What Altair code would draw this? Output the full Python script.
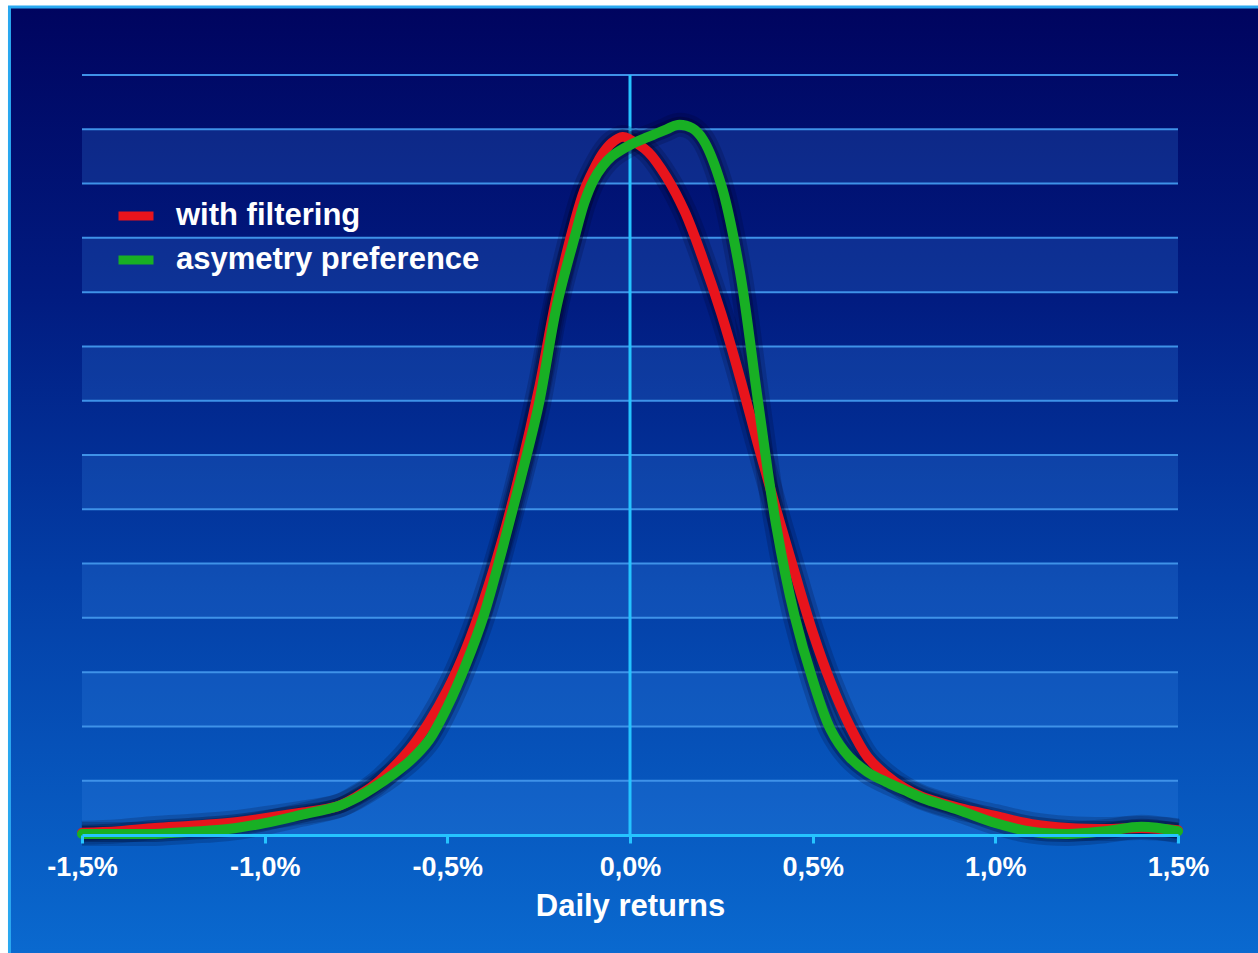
import altair as alt
import pandas as pd

# ---- data (x in %, y = density in grid units) ----
red_x = [-1.5, -1.4, -1.3, -1.2, -1.1, -1.0, -0.9, -0.8,
         -0.75, -0.7, -0.65, -0.6, -0.55, -0.5, -0.45, -0.4, -0.35, -0.3, -0.25, -0.2, -0.15,
         -0.125, -0.1, -0.075, -0.05, -0.02, 0.0,
         0.05, 0.1, 0.15, 0.2, 0.25, 0.3, 0.35, 0.4, 0.45, 0.5, 0.55, 0.6, 0.65, 0.7, 0.75, 0.8,
         0.9, 1.0, 1.1, 1.2, 1.3, 1.4, 1.5]
red_y = [0.04, 0.07, 0.13, 0.17, 0.22, 0.31, 0.41, 0.53,
         0.70, 0.92, 1.23, 1.60, 2.08, 2.67, 3.41, 4.33, 5.43, 6.72, 8.20, 9.95, 11.33,
         11.88, 12.25, 12.55, 12.75, 12.86, 12.81,
         12.58, 12.12, 11.48, 10.60, 9.60, 8.45, 7.20, 6.00, 4.85, 3.74, 2.80, 2.03, 1.44, 1.11, 0.87, 0.70,
         0.50, 0.35, 0.20, 0.13, 0.11, 0.13, 0.09]

green_x = [-1.5, -1.4, -1.3, -1.2, -1.1, -1.0, -0.9, -0.8,
           -0.75, -0.7, -0.65, -0.6, -0.55, -0.5, -0.45, -0.4, -0.35, -0.3, -0.25, -0.2, -0.15,
           -0.125, -0.1, -0.075, -0.05,
           0.0, 0.05, 0.1, 0.13, 0.17,
           0.2, 0.25, 0.3, 0.35, 0.4, 0.45, 0.5, 0.55, 0.6, 0.65, 0.7, 0.75, 0.8,
           0.9, 1.0, 1.1, 1.2, 1.3, 1.4, 1.5]
green_y = [0.02, 0.02, 0.02, 0.06, 0.11, 0.22, 0.37, 0.53,
           0.68, 0.88, 1.11, 1.38, 1.75, 2.36, 3.13, 4.05, 5.25, 6.54, 7.92, 9.76, 11.05,
           11.65, 12.06, 12.32, 12.50,
           12.71, 12.86, 13.00, 13.08, 13.02,
           12.81, 11.97, 10.41, 8.01, 5.71, 4.05, 2.86, 1.93, 1.44, 1.16, 0.98, 0.83, 0.68,
           0.46, 0.22, 0.06, 0.02, 0.07, 0.15, 0.07]

series_names = ["with filtering", "asymetry preference"]
series_colors = ["#e8141c", "#18b024"]
tick_values = [-1.5, -1.0, -0.5, 0.0, 0.5, 1.0, 1.5]
grid_values = list(range(1, 15))
band_lows = [0, 2, 4, 6, 8, 10, 12]
x_min, x_max = -1.5, 1.5
y_min, y_max = 0, 14
# slide background extent (in data units, reaching past the plot area)
bg_x = [-1.6985, 1.76]
bg_y = [-2.3, 15.2526]

FONT = "Liberation Sans"

df = pd.concat([
    pd.DataFrame({"x": red_x, "y": red_y, "series": series_names[0]}),
    pd.DataFrame({"x": green_x, "y": green_y, "series": series_names[1]}),
], ignore_index=True)

xscale = alt.Scale(domain=[x_min, x_max], nice=False, zero=False)
yscale = alt.Scale(domain=[y_min, y_max], nice=False, zero=False)

label_expr = "(datum.value < 0 ? '-' : '') + replace(format(abs(datum.value), '.1f'), '.', ',') + '%'"
xaxis = alt.Axis(
    values=tick_values, labelExpr=label_expr, grid=False, zindex=1,
    domainColor="#25c4ff", domainWidth=3, tickColor="#25c4ff", tickWidth=3, tickSize=8,
    labelColor="white", labelFont=FONT, labelFontWeight="bold", labelFontSize=27,
    labelPadding=11, labelFlush=False,
    title="Daily returns", titleColor="white", titleFont=FONT, titleFontWeight="bold",
    titleFontSize=31, titlePadding=11)

bg_df = pd.DataFrame({"xa": [bg_x[0]], "xb": [bg_x[1]], "ya": [bg_y[0]], "yb": [bg_y[1]]})
bands_df = pd.DataFrame({"lo": band_lows, "hi": [b + 1 for b in band_lows],
                         "xa": x_min, "xb": x_max})
grid_df = pd.DataFrame({"g": grid_values, "xa": x_min, "xb": x_max})
zero_df = pd.DataFrame({"z": [0.0], "lo": [y_min], "hi": [y_max]})

bg_gradient = {
    "gradient": "linear", "x1": 0, "x2": 0, "y1": 0, "y2": 1,
    "stops": [{"offset": 0, "color": "#00045f"},
              {"offset": 0.3, "color": "#011b80"},
              {"offset": 0.6, "color": "#033ea6"},
              {"offset": 1, "color": "#0a6ad0"}],
}

bg = alt.Chart(bg_df).mark_rect(fill=bg_gradient, stroke="#2aa8f0", strokeWidth=3).encode(
    x=alt.X("xa:Q", scale=xscale, axis=xaxis), x2="xb:Q",
    y=alt.Y("ya:Q", scale=yscale, axis=None), y2="yb:Q")

bands = alt.Chart(bands_df).mark_rect(fill="#3a8ae8", opacity=0.22).encode(
    x=alt.X("xa:Q", scale=xscale, axis=xaxis), x2="xb:Q",
    y=alt.Y("lo:Q", scale=yscale, axis=None), y2="hi:Q")

grid = alt.Chart(grid_df).mark_rule(color="#3f92e8", strokeWidth=2).encode(
    x=alt.X("xa:Q", scale=xscale, axis=xaxis), x2="xb:Q",
    y=alt.Y("g:Q", scale=yscale, axis=None))

zero_line = alt.Chart(zero_df).mark_rule(color="#25c4ff", strokeWidth=3).encode(
    x=alt.X("z:Q", scale=xscale, axis=xaxis),
    y=alt.Y("lo:Q", scale=yscale, axis=None), y2="hi:Q")

shadow1 = alt.Chart(df).mark_line(
    interpolate="catmull-rom", color="#000020", strokeWidth=24, opacity=0.18).encode(
    x=alt.X("x:Q", scale=xscale, axis=xaxis),
    y=alt.Y("y:Q", scale=yscale, axis=None),
    detail="series:N")
shadow2 = alt.Chart(df).mark_line(
    interpolate="catmull-rom", color="#000020", strokeWidth=16, opacity=0.28).encode(
    x=alt.X("x:Q", scale=xscale, axis=xaxis),
    y=alt.Y("y:Q", scale=yscale, axis=None),
    detail="series:N")

lines = alt.Chart(df).mark_line(
    interpolate="catmull-rom", strokeWidth=10, strokeCap="round").encode(
    x=alt.X("x:Q", scale=xscale, axis=xaxis),
    y=alt.Y("y:Q", scale=yscale, axis=None),
    color=alt.Color("series:N",
                    scale=alt.Scale(domain=series_names, range=series_colors),
                    legend=alt.Legend(
                        title=None, orient="none", legendX=32, legendY=119,
                        symbolType="stroke", symbolStrokeWidth=9, symbolSize=1225,
                        labelFontSize=31, labelFont=FONT, labelFontWeight="bold",
                        labelColor="white", labelOffset=18, labelLimit=500,
                        rowPadding=4)))

chart = alt.layer(bg, bands, grid, zero_line, shadow1, shadow2, lines).properties(
    width=1096, height=760,
    padding={"left": 82, "top": 75, "right": 80, "bottom": 118},
    autosize=alt.AutoSizeParams(type="none"),
).configure(background="white").configure_view(stroke=None)

chart.save("out.html", embed_options={"renderer": "svg", "actions": False})
